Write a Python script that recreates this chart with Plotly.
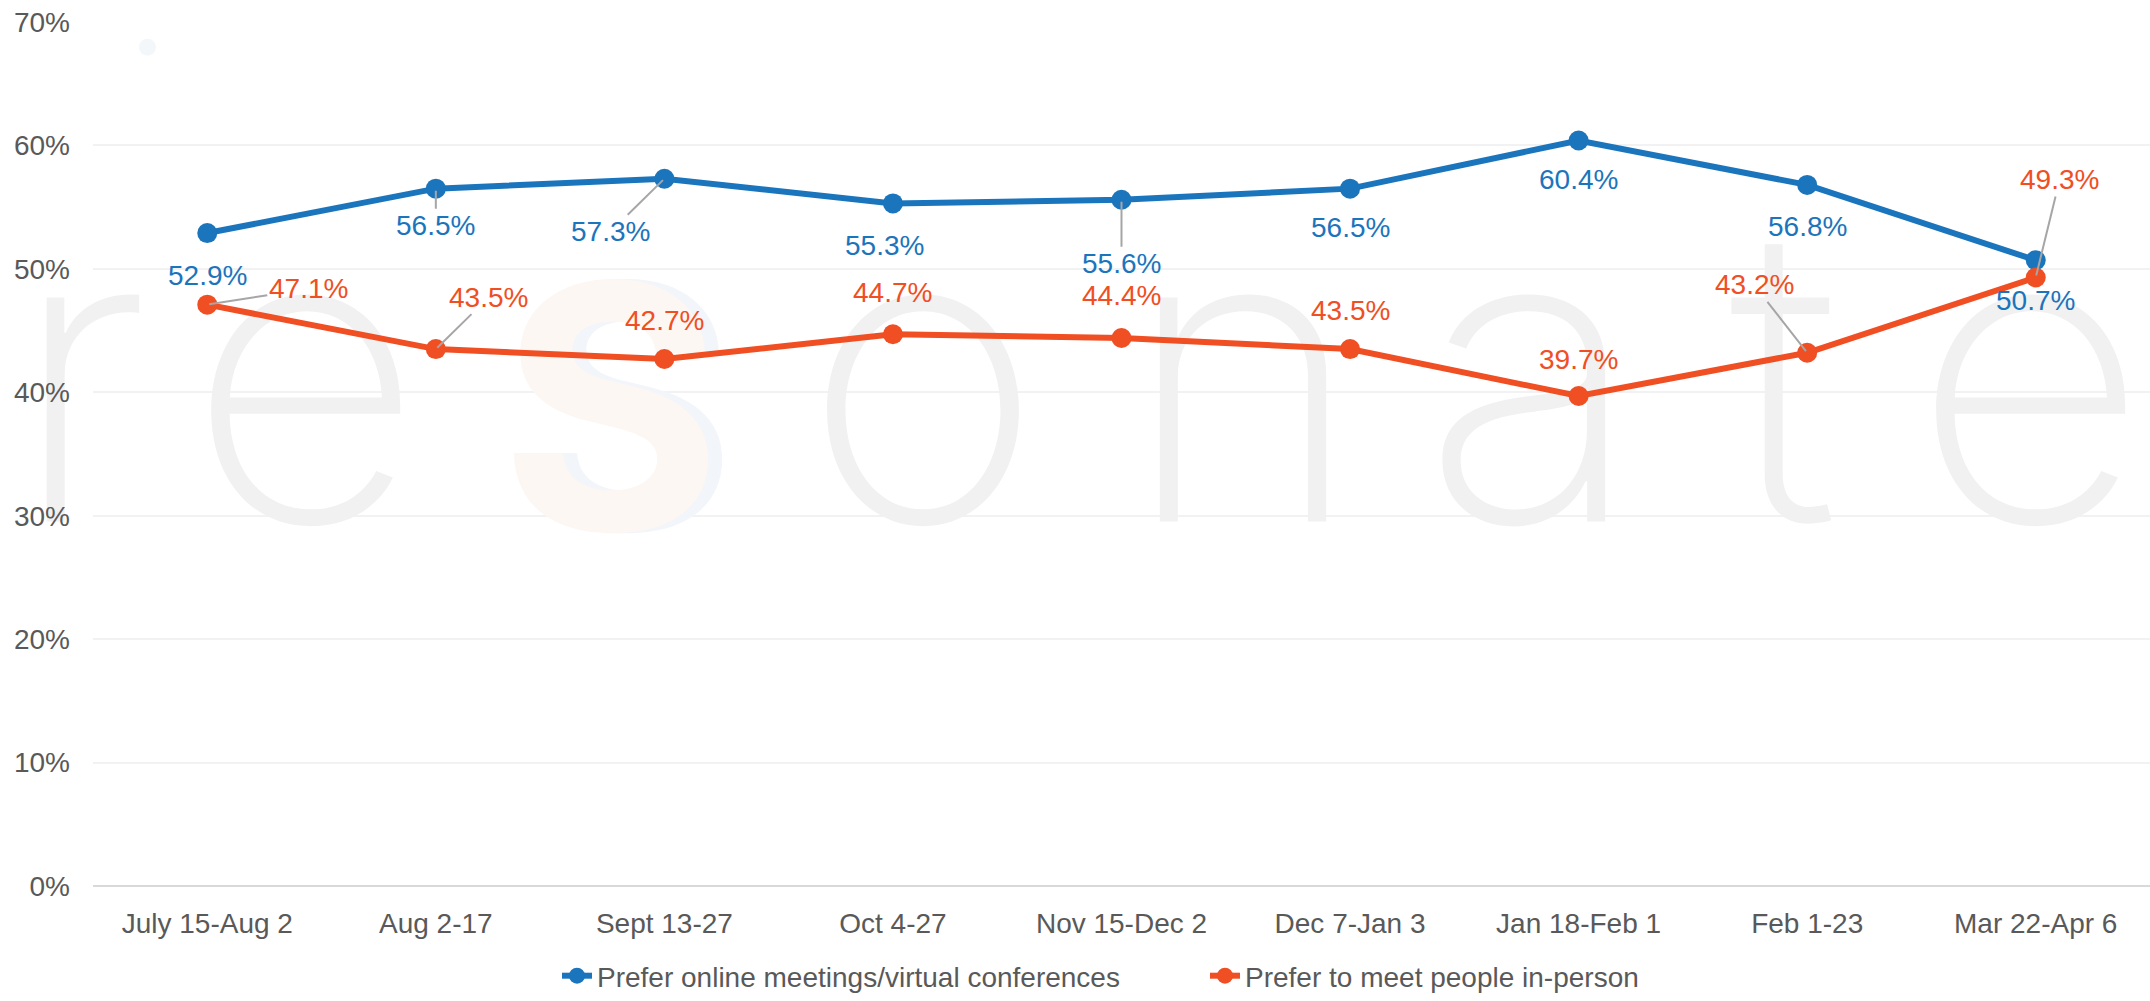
import plotly.graph_objects as go

categories = ["July 15-Aug 2", "Aug 2-17", "Sept 13-27", "Oct 4-27", "Nov 15-Dec 2",
              "Dec 7-Jan 3", "Jan 18-Feb 1", "Feb 1-23", "Mar 22-Apr 6"]
online_pct = [52.9, 56.5, 57.3, 55.3, 55.6, 56.5, 60.4, 56.8, 50.7]
inperson_pct = [47.1, 43.5, 42.7, 44.7, 44.4, 43.5, 39.7, 43.2, 49.3]
series_names = ["Prefer online meetings/virtual conferences", "Prefer to meet people in-person"]
y_ticks = [0, 10, 20, 30, 40, 50, 60, 70]
watermark_letters = ["e", "o", "n", "a", "t", "e"]
watermark_first = "r"

# ---- layout / style settings ----
W, H = 2150, 1001
ML, MR, MT, MB = 93, 0, 22, 106
PW, PH = W - ML - MR, H - MT - MB
X_RANGE = [-0.5, len(categories) - 0.5]
Y_RANGE = [0, 70]
cat_pos = list(range(len(categories)))

def px_x(px):
    return (px - ML) / PW

def px_y(py):
    return (H - MB - py) / PH

def dx_from_px(px):   # pixel -> x data units (for decorative watermark only)
    return X_RANGE[0] + (px - ML) / PW * (X_RANGE[1] - X_RANGE[0])

def dy_from_px(py):
    return Y_RANGE[0] + (H - MB - py) / PH * (Y_RANGE[1] - Y_RANGE[0])

# label offsets in pixels (text centre relative to point) and whether a leader line is drawn
online_offsets = [(0, 42, False), (0, 37, True), (-54, 53, True), (-8, 42, False), (0, 64, True),
                  (0, 39, False), (0, 39, False), (0, 42, False), (0, 40, False)]
inperson_offsets = [(101, -16, True), (53, -52, True), (0, -38, False), (0, -42, False), (0, -42, False),
                    (0, -39, False), (0, -36, False), (-53, -68, True), (24, -98, True)]
watermark_centres = [305, 923, 1243, 1532, 1784, 2030]
watermark_first_anchor = 150   # right-anchored, so it can spill left of the plot area
logo_centre = 618
WM_MID = 423
LOGO_MID = 449

BLUE = "#1B75BC"
ORANGE = "#F04E23"
GREY_TXT = "#595959"
FONT = "Liberation Sans, Arial, sans-serif"
WM_FONT = "Inter, Lato, sans-serif"
WM_STYLE = dict(family=WM_FONT, size=410, color="#f1f1f1", weight=200)

fig = go.Figure()

# watermark (drawn first, beneath data and beneath axis tick labels)
for dxp, colr in [(7, "#f2f5f9"), (-7, "#fdf7f4")]:
    fig.add_trace(go.Scatter(
        x=[dx_from_px(logo_centre + dxp)], y=[dy_from_px(LOGO_MID)], mode="text", text=["S"],
        textposition="middle center", cliponaxis=False, showlegend=False, hoverinfo="skip",
        textfont=dict(family=WM_FONT, size=340, color=colr, weight=700)))
fig.add_trace(go.Scatter(
    x=[dx_from_px(c) for c in watermark_centres], y=[dy_from_px(WM_MID)] * len(watermark_centres),
    mode="text", text=watermark_letters, textposition="middle center", cliponaxis=False,
    showlegend=False, hoverinfo="skip", textfont=WM_STYLE))
fig.add_trace(go.Scatter(
    x=[dx_from_px(watermark_first_anchor)], y=[dy_from_px(WM_MID)],
    mode="text", text=[watermark_first], textposition="middle left", cliponaxis=False,
    showlegend=False, hoverinfo="skip", textfont=WM_STYLE))

for vals, name, col in [(online_pct, series_names[0], BLUE), (inperson_pct, series_names[1], ORANGE)]:
    fig.add_trace(go.Scatter(
        x=cat_pos, y=vals, name=name, mode="lines+markers",
        line=dict(color=col, width=6), marker=dict(color=col, size=20),
        hoverinfo="skip"))

annotations = []
for vals, offs, col in [(online_pct, online_offsets, BLUE), (inperson_pct, inperson_offsets, ORANGE)]:
    for c, v, (dx, dy, lead) in zip(cat_pos, vals, offs):
        annotations.append(dict(
            x=c, y=v, xref="x", yref="y", text=f"{v:.1f}%", showarrow=True,
            ax=dx, ay=dy, arrowhead=0, arrowwidth=2,
            arrowcolor="#a6a6a6" if lead else "rgba(0,0,0,0)", standoff=2,
            font=dict(family=FONT, size=28, color=col)))

fig.update_layout(
    width=W, height=H,
    margin=dict(l=ML, r=MR, t=MT, b=MB),
    paper_bgcolor="white", plot_bgcolor="rgba(0,0,0,0)",
    font=dict(family=FONT, size=28, color=GREY_TXT),
    showlegend=True,
    legend=dict(orientation="h", x=px_x(557), xanchor="left", y=px_y(986), yanchor="middle",
                font=dict(family=FONT, size=28, color=GREY_TXT), entrywidth=603,
                bgcolor="rgba(0,0,0,0)"),
    annotations=annotations,
    shapes=[dict(type="circle", xref="paper", yref="paper",
                 x0=px_x(139), x1=px_x(156), y0=px_y(56), y1=px_y(39),
                 fillcolor="#f4f7f9", line=dict(width=0), layer="below")],
)
fig.update_xaxes(range=X_RANGE, tickvals=cat_pos, ticktext=categories,
                 showgrid=False, showline=False, zeroline=False, ticks="", ticklabelstandoff=18,
                 tickfont=dict(family=FONT, size=28, color=GREY_TXT))
fig.update_yaxes(range=Y_RANGE, tickvals=y_ticks, ticktext=[f"{t}%" for t in y_ticks],
                 showgrid=True, gridcolor="#f2f2f2", gridwidth=2,
                 zeroline=True, zerolinecolor="#d9d9d9", zerolinewidth=2,
                 showline=False, ticks="", ticklabelstandoff=22,
                 tickfont=dict(family=FONT, size=28, color=GREY_TXT))

fig.write_html("out.html", config={"displayModeBar": False},
               post_script="document.body.style.margin='0px';")
